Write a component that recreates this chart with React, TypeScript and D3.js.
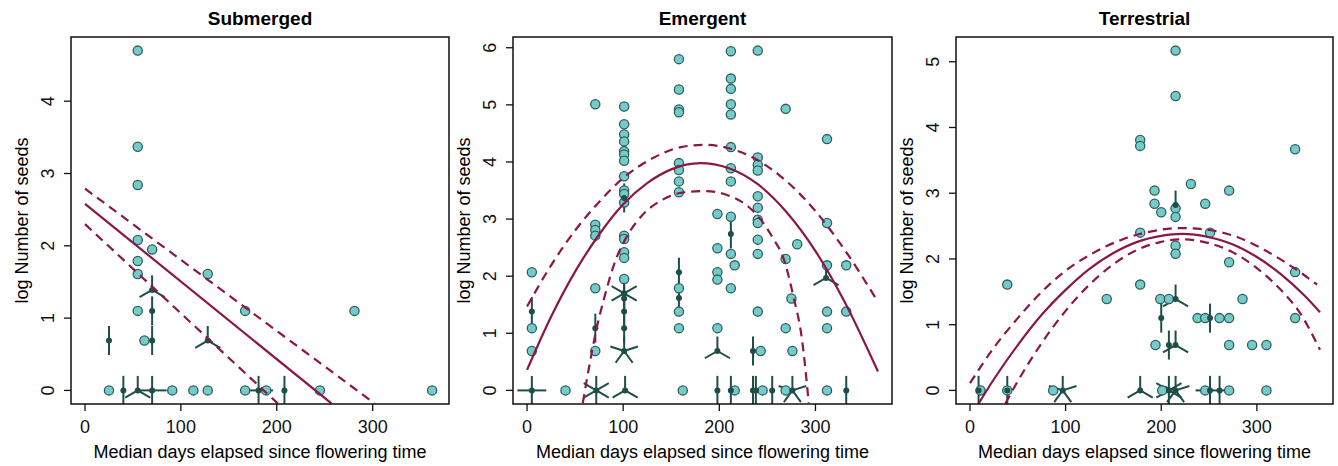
import React, { useEffect, useRef } from "react";
import * as d3 from "d3";

type Pt = [number, number];
type Flower = [number, number, number]; // x, y, count

const titles = ["Submerged", "Emergent", "Terrestrial"];
const xLabel = "Median days elapsed since flowering time";
const yLabel = "log Number of seeds";
const xLimits = [0, 365];
const xTicks = [0, 100, 200, 300];
const subYTicks = [0, 1, 2, 3, 4];
const emeYTicks = [0, 1, 2, 3, 4, 5, 6];
const terYTicks = [0, 1, 2, 3, 4, 5];

// single observations (open circles)
const subPoints: Pt[] = [
  [55, 4.7], [55, 3.37], [55, 2.84], [55, 2.08], [70, 1.95], [55, 1.79], [55, 1.61],
  [128, 1.61], [55, 1.1], [167, 1.1], [281, 1.1], [62, 0.69],
  [25, 0], [91, 0], [113, 0], [128, 0], [167, 0], [189, 0], [245, 0], [362, 0],
];
// repeated observations (sunflowers)
const subFlowers: Flower[] = [
  [25, 0.69, 2], [40, 0, 2], [55, 0, 3], [70, 0, 4], [70, 1.39, 3], [70, 1.1, 2],
  [70, 0.69, 2], [128, 0.69, 3], [181, 0, 4], [208, 0, 2],
];
const subFit: Pt[] = [[0, 2.58], [257, -0.18]];
const subUpper: Pt[] = [[0, 2.79], [302, -0.18]];
const subLower: Pt[] = [[0, 2.3], [201, -0.18]];

const emePoints: Pt[] = [
  [5, 2.07], [5, 1.09], [5, 0.69], [40, 0],
  [71, 5.01], [71, 2.9], [71, 2.81], [71, 2.71], [71, 1.79], [71, 0.69],
  [101, 4.97], [101, 4.66], [101, 4.48], [101, 4.36], [101, 4.19], [101, 4.13], [101, 4.02],
  [101, 3.75], [101, 3.5], [101, 3.44], [101, 3.29], [101, 2.71], [101, 2.65], [101, 2.42],
  [101, 2.32], [101, 1.95],
  [158, 5.8], [158, 5.27], [158, 4.92], [158, 4.87], [158, 3.98], [158, 3.86], [158, 3.66],
  [158, 3.47], [158, 1.79], [158, 1.38], [158, 1.09], [162, 0],
  [198, 3.09], [198, 2.49], [198, 2.07], [198, 1.94], [198, 1.09],
  [212, 5.94], [212, 5.46], [212, 5.28], [212, 5.01], [212, 4.83], [212, 4.26], [212, 3.89],
  [212, 3.66], [212, 3.04], [212, 2.39], [212, 1.79], [216, 2.19], [216, 0],
  [240, 5.95], [240, 4.08], [240, 3.95], [240, 3.85], [240, 3.4], [240, 3.2], [240, 2.99],
  [240, 2.93], [240, 2.64], [240, 2.39], [240, 1.38], [243, 0.69], [245, 0],
  [269, 4.93], [269, 2.3], [269, 1.09], [269, 0], [275, 1.61], [276, 0.69], [281, 2.56],
  [312, 4.4], [312, 2.93], [312, 2.19], [312, 1.38], [312, 1.09], [312, 0],
  [332, 2.19], [332, 1.38],
];
const emeFlowers: Flower[] = [
  [5, 1.38, 2], [5, 0, 4], [71, 1.09, 2], [72, 0, 6],
  [101, 3.37, 2], [101, 1.7, 6], [101, 1.61, 2], [101, 1.38, 2], [101, 1.09, 2],
  [101, 0.69, 5], [102, 0, 3],
  [158, 2.07, 2], [158, 1.62, 2], [198, 0.69, 3], [198, 0, 2],
  [212, 2.74, 2], [212, 0, 2], [235, 0.69, 2], [235, 0, 2], [238, 0, 2], [255, 0, 2],
  [276, 0, 5], [311, 1.97, 3], [332, 0, 2],
];
const emeFit: Pt[] = [
  [0, 0.36], [25, 1.29], [50, 2.08], [75, 2.73], [100, 3.26], [125, 3.63], [150, 3.87],
  [180, 3.98], [210, 3.89], [240, 3.61], [270, 3.12], [300, 2.44], [330, 1.56], [365, 0.33],
];
const emeUpper: Pt[] = [
  [0, 1.47], [25, 2.19], [50, 2.8], [75, 3.3], [100, 3.72], [130, 4.06], [160, 4.26],
  [185, 4.3], [210, 4.24], [240, 4.03], [270, 3.66], [300, 3.14], [330, 2.47], [365, 1.55],
];
const emeLower: Pt[] = [
  [58, -0.22], [65, 0.45], [72, 1.06], [80, 1.6], [91, 2.23], [102, 2.64], [120, 3.07],
  [140, 3.33], [160, 3.46], [185, 3.49], [210, 3.41], [230, 3.22], [245, 2.95], [256, 2.66],
  [267, 2.3], [277, 1.65], [286, 0.89], [293, -0.22],
];

const terPoints: Pt[] = [
  [11, 0], [39, 0], [39, 1.61], [87, 0], [143, 1.39],
  [178, 3.81], [178, 3.72], [178, 2.4], [178, 1.61],
  [193, 3.04], [193, 2.84], [200, 2.71], [194, 0.69], [199, 1.39], [208, 1.39],
  [215, 5.17], [215, 4.48], [215, 2.77], [215, 2.64], [215, 2.2], [215, 2.08],
  [231, 3.14], [246, 2.84], [251, 2.4], [271, 3.04], [271, 1.95], [285, 1.39],
  [238, 1.1], [246, 1.1], [261, 1.1], [271, 1.1], [271, 0.69], [295, 0.69], [310, 0.69],
  [201, 0], [246, 0], [271, 0], [310, 0], [340, 3.67], [340, 1.8], [340, 1.1],
];
const terFlowers: Flower[] = [
  [9, 0, 2], [39, 0, 2], [97, 0, 5], [178, 0, 3], [215, 1.39, 3], [200, 1.1, 2],
  [215, 2.82, 2], [251, 1.1, 2], [208, 0.69, 2], [215, 0.69, 3], [208, 0, 6],
  [215, 0, 5], [251, 0, 4], [261, 0, 2],
];
const terFit: Pt[] = [
  [9, -0.2], [25, 0.17], [50, 0.69], [75, 1.15], [100, 1.53], [125, 1.85], [150, 2.09],
  [175, 2.26], [200, 2.35], [222, 2.38], [250, 2.33], [275, 2.22], [300, 2.03], [325, 1.77],
  [350, 1.44], [366, 1.19],
];
const terUpper: Pt[] = [
  [0, 0.11], [25, 0.65], [50, 1.1], [75, 1.5], [100, 1.82], [130, 2.1], [160, 2.3],
  [190, 2.42], [220, 2.47], [250, 2.44], [280, 2.33], [310, 2.12], [340, 1.85], [363, 1.61],
];
const terLower: Pt[] = [
  [37, -0.2], [50, 0.14], [75, 0.72], [100, 1.21], [125, 1.61], [150, 1.92], [175, 2.14],
  [200, 2.26], [222, 2.3], [250, 2.24], [275, 2.1], [300, 1.86], [325, 1.53], [345, 1.18],
  [366, 0.62],
];

const panels = [
  { title: titles[0], points: subPoints, flowers: subFlowers, fit: subFit, upper: subUpper, lower: subLower, yTicks: subYTicks, left: 71, right: 449 },
  { title: titles[1], points: emePoints, flowers: emeFlowers, fit: emeFit, upper: emeUpper, lower: emeLower, yTicks: emeYTicks, left: 513, right: 892 },
  { title: titles[2], points: terPoints, flowers: terFlowers, fit: terFit, upper: terUpper, lower: terLower, yTicks: terYTicks, left: 956, right: 1333 },
];

const W = 1338;
const H = 466;
const TOP = 37;
const BOTTOM = 404;
const FONT = "'Liberation Sans', Arial, Helvetica, sans-serif";
const CURVE = "#8a1747";
const DARK = "#1f4d48";
const FILL = "#74cbca";

const App = () => {
  const svgRef = useRef<SVGSVGElement>(null);

  useEffect(() => {
    const svg = d3.select(svgRef.current);
    svg.selectAll("*").remove();

    panels.forEach((p, i) => {
      const pad = (xLimits[1] - xLimits[0]) * 0.04;
      const x = d3.scaleLinear().domain([xLimits[0] - pad, xLimits[1] + pad]).range([p.left, p.right]);
      const allY = [...p.points.map((d) => d[1]), ...p.flowers.map((d) => d[1])];
      const [y0, y1] = d3.extent(allY) as [number, number];
      const yp = (y1 - y0) * 0.04;
      const y = d3.scaleLinear().domain([y0 - yp, y1 + yp]).range([BOTTOM, TOP]);

      const clipId = `clip${i}`;
      svg
        .append("clipPath")
        .attr("id", clipId)
        .append("rect")
        .attr("x", p.left)
        .attr("y", TOP)
        .attr("width", p.right - p.left)
        .attr("height", BOTTOM - TOP);

      const g = svg.append("g").attr("clip-path", `url(#${clipId})`);

      // sunflower petals
      const petal = 14.5;
      p.flowers.forEach(([fx, fy, n]) => {
        const cx = x(fx);
        const cy = y(fy);
        for (let k = 1; k <= n; k++) {
          const a = (2 * Math.PI * k) / n;
          g.append("line")
            .attr("x1", cx)
            .attr("y1", cy)
            .attr("x2", cx + petal * Math.sin(a))
            .attr("y2", cy - petal * Math.cos(a))
            .attr("stroke", DARK)
            .attr("stroke-width", 2);
        }
      });

      g.selectAll("circle.pt")
        .data(p.points)
        .enter()
        .append("circle")
        .attr("class", "pt")
        .attr("cx", (d) => x(d[0]))
        .attr("cy", (d) => y(d[1]))
        .attr("r", 4.6)
        .attr("fill", FILL)
        .attr("stroke", "#2f5f5b")
        .attr("stroke-width", 1.3);

      g.selectAll("circle.fl")
        .data(p.flowers)
        .enter()
        .append("circle")
        .attr("class", "fl")
        .attr("cx", (d) => x(d[0]))
        .attr("cy", (d) => y(d[1]))
        .attr("r", 3)
        .attr("fill", DARK);

      const line = d3
        .line<Pt>()
        .x((d) => x(d[0]))
        .y((d) => y(d[1]))
        .curve(d3.curveMonotoneX);

      g.append("path")
        .attr("d", line(p.fit))
        .attr("fill", "none")
        .attr("stroke", CURVE)
        .attr("stroke-width", 2.2);
      [p.upper, p.lower].forEach((band) => {
        g.append("path")
          .attr("d", line(band))
          .attr("fill", "none")
          .attr("stroke", CURVE)
          .attr("stroke-width", 2.2)
          .attr("stroke-dasharray", "9,6");
      });

      // box
      svg
        .append("rect")
        .attr("x", p.left)
        .attr("y", TOP)
        .attr("width", p.right - p.left)
        .attr("height", BOTTOM - TOP)
        .attr("fill", "none")
        .attr("stroke", "#111")
        .attr("stroke-width", 1.5);

      // axes
      const ax = svg.append("g").attr("font-family", FONT).attr("font-size", 18).attr("fill", "#111");
      xTicks.forEach((t) => {
        ax.append("line")
          .attr("x1", x(t))
          .attr("x2", x(t))
          .attr("y1", BOTTOM)
          .attr("y2", BOTTOM + 7)
          .attr("stroke", "#111")
          .attr("stroke-width", 1.3);
        ax.append("text").attr("x", x(t)).attr("y", 433).attr("text-anchor", "middle").text(t);
      });

      p.yTicks.forEach((t) => {
        ax.append("line")
          .attr("x1", p.left)
          .attr("x2", p.left - 7)
          .attr("y1", y(t))
          .attr("y2", y(t))
          .attr("stroke", "#111")
          .attr("stroke-width", 1.3);
        ax.append("text")
          .attr("transform", `translate(${p.left - 17.5},${y(t)}) rotate(-90)`)
          .attr("text-anchor", "middle")
          .text(t);
      });

      const mid = (p.left + p.right) / 2;
      svg
        .append("text")
        .attr("x", mid)
        .attr("y", 25)
        .attr("text-anchor", "middle")
        .attr("font-family", FONT)
        .attr("font-weight", "bold")
        .attr("font-size", 19)
        .text(p.title);

      svg
        .append("text")
        .attr("x", mid)
        .attr("y", 458)
        .attr("text-anchor", "middle")
        .attr("font-family", FONT)
        .attr("font-size", 18)
        .text(xLabel);

      svg
        .append("text")
        .attr("transform", `translate(${p.left - 43.5},${(TOP + BOTTOM) / 2}) rotate(-90)`)
        .attr("text-anchor", "middle")
        .attr("font-family", FONT)
        .attr("font-size", 18)
        .text(yLabel);
    });
  }, []);

  return (
    <svg
      ref={svgRef}
      width={W}
      height={H}
      style={{ position: "absolute", left: 0, top: 0, background: "#fff", display: "block" }}
    ></svg>
  );
};

export default App;
